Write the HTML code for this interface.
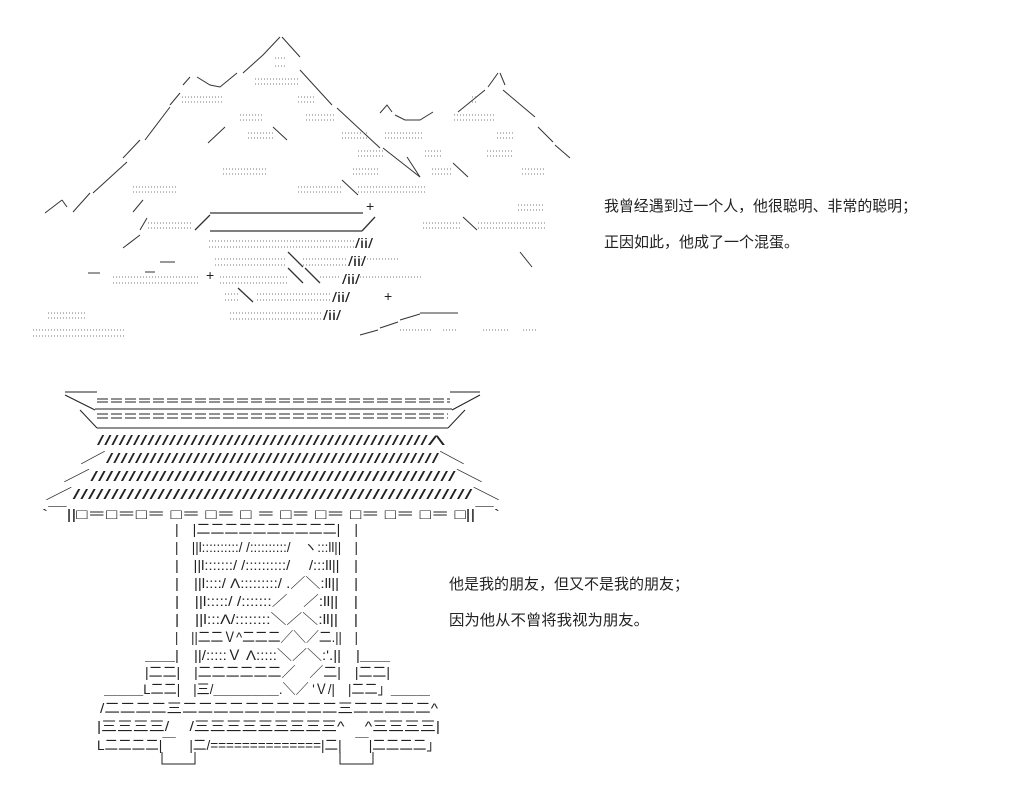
<!DOCTYPE html>
<html><head><meta charset="utf-8"><style>
html,body{margin:0;padding:0;background:#fff;width:1018px;height:802px;overflow:hidden}
svg{display:block}
text{font-family:"Liberation Sans","Noto Sans CJK SC",sans-serif;fill:#222}
.a{font-size:14px}
.c{font-size:15px}
</style></head><body>
<svg width="1018" height="802" viewBox="0 0 1018 802" xmlns="http://www.w3.org/2000/svg">
<g stroke="#333" stroke-width="1" fill="none">
<!-- big mountain -->
<path d="M280,37 L263,55 L243,73 M282,37 L300,57 M300,70 L332,105 M190,77 L183,85 M197,77 L210,85 L220,87 L237,73 M180,93 L170,105 M170,107 L145,140 M140,140 L123,158 M127,162 L93,193 M90,193 L73,212 M62,200 L45,213 M62,200 L67,207 M337,108 L380,148 M383,148 L420,177 M342,180 L358,195 M273,127 L287,140 M225,127 L208,143 M143,200 L133,212 M147,218 L140,230 M140,235 L123,248"/>
<!-- second mountain -->
<path d="M498,73 L488,87 M500,73 L505,85 M485,90 L458,112 M380,113 L387,105 L392,112 M395,115 L405,120 L420,120 L433,112 M503,90 L535,117 M538,127 L553,142 M555,145 L570,158 M453,163 L468,177 M407,157 L420,177 M463,217 L477,230 M520,252 L532,267"/>
<!-- bridge -->
<path d="M210,213 L363,213 M210,231 L362,231 M195,230 L210,215 M362,231 L375,217 M288,252 L303,267 M288,268 L303,283 M305,268 L320,283 M238,288 L253,302" stroke-width="1.3"/>
<path d="M420,313 L458,313 M400,320 L420,314 M380,328 L398,322 M360,335 L378,330 M88,273 L100,273 M160,262 L175,262 M145,272 L155,272"/>
</g>
<g stroke="#777" stroke-width="1" stroke-dasharray="1 2">
<path d="M275,58H286M275,66H286M255,79H299M255,84H299M182,97H223M182,102H223M298,97H316M298,102H316M240,115H262M240,120H262M306,115H335M306,120H335M454,115H496M454,120H496M472,97H478M472,102H478M248,133H273M248,138H273M342,133H368M342,138H368M385,133H423M385,138H423M497,133H513M497,138H513M358,151H385M358,156H385M425,151H443M425,156H443M487,151H513M487,156H513M223,169H267M223,174H267M353,169H378M353,174H378M432,169H453M432,174H453M522,169H545M522,174H545M133,187H177M133,192H177M298,187H342M298,192H342M358,187H425M358,192H425M518,205H545M518,210H545M148,223H193M148,228H193M423,223H462M423,228H462M478,223H545M478,228H545M209,241H355M209,247H355M215,259H287M215,265H287M303,259H347M303,265H347M358,259H398M113,277H198M113,283H198M220,277H288M220,283H288M320,277H340M360,277H422M225,294H238M225,300H238M257,294H332M257,300H332M230,313H323M230,319H323M48,313H87M48,318H87M33,330H125M33,336H125M400,330H433M483,330H510M443,330H457M523,330H537"/>
</g>
<text class="a" x="366" y="211">+</text>
<text class="a" x="384" y="301">+</text>
<text class="a" x="206" y="280">+</text>
<text class="a" x="355" y="248" textLength="18" lengthAdjust="spacingAndGlyphs">/ii/</text>
<text class="a" x="348" y="266" textLength="18" lengthAdjust="spacingAndGlyphs">/ii/</text>
<text class="a" x="342" y="284" textLength="18" lengthAdjust="spacingAndGlyphs">/ii/</text>
<text class="a" x="332" y="302" textLength="18" lengthAdjust="spacingAndGlyphs">/ii/</text>
<text class="a" x="323" y="320" textLength="18" lengthAdjust="spacingAndGlyphs">/ii/</text>

<!-- gate roof -->
<g stroke="#222" stroke-width="1" fill="none">
<path d="M65,392H97M450,392H480M65,395L95,410M80,410L97,428M480,395L452,410M465,410L448,428M95,409H452M97,428H448"/>
<path d="M97,399H450M97,402H450M97,414H448M97,418H448" stroke-dasharray="11 3"/>
</g>
<text class="a" x="97" y="445" textLength="348" lengthAdjust="spacingAndGlyphs">//////////////////////////////////////////////Λ</text>
<text class="a" x="80" y="463" textLength="385" lengthAdjust="spacingAndGlyphs">／//////////////////////////////////////////////＼</text>
<text class="a" x="63" y="481" textLength="420" lengthAdjust="spacingAndGlyphs">／////////////////////////////////////////////////＼</text>
<text class="a" x="45" y="499" textLength="455" lengthAdjust="spacingAndGlyphs">／////////////////////////////////////////////////////＼</text>
<text class="a" x="42" y="519" textLength="458" lengthAdjust="spacingAndGlyphs">`￣||□＝□＝□＝ □＝ □＝ □ ＝ □＝ □＝ □＝ □＝ □＝ □||￣`</text>

<!-- gate body -->
<g class="a">
<text x="175" y="534" textLength="183" lengthAdjust="spacingAndGlyphs">|　|二二二二二二二二二二|　|</text>
<text x="175" y="552" textLength="183" lengthAdjust="spacingAndGlyphs">|　||l::::::::::/ /::::::::::/　ヽ:::ll||　|</text>
<text x="175" y="570" textLength="183" lengthAdjust="spacingAndGlyphs">|　||l:::::::/ /::::::::::/　 /:::ll||　|</text>
<text x="175" y="588" textLength="183" lengthAdjust="spacingAndGlyphs">|　||l::::/ Λ:::::::::/ .／＼:ll||　|</text>
<text x="175" y="606" textLength="183" lengthAdjust="spacingAndGlyphs">|　||l:::::/ /:::::::／　／:ll||　|</text>
<text x="175" y="624" textLength="183" lengthAdjust="spacingAndGlyphs">|　||l:::Λ/::::::::＼／＼:ll||　|</text>
<text x="175" y="642" textLength="183" lengthAdjust="spacingAndGlyphs">|　||二二Ｖ^二二二／＼／二.||　|</text>
<text x="145" y="660" textLength="245" lengthAdjust="spacingAndGlyphs">＿＿|　||/:::::Ｖ Λ:::::＼／＼:'.||　|＿＿</text>
<text x="145" y="677" textLength="245" lengthAdjust="spacingAndGlyphs">|二二|　|二二二二二二／　／二|　|二二|</text>
<text x="104" y="694" textLength="326" lengthAdjust="spacingAndGlyphs">＿＿＿L二二|　|三/＿＿＿＿＿.＼／ 'Ｖ/|　|二二」＿＿＿</text>
<text x="100" y="713" textLength="338" lengthAdjust="spacingAndGlyphs">/二二二二三二二二二二二二二二二三二二二二二^</text>
<text x="97" y="731" textLength="343" lengthAdjust="spacingAndGlyphs">|三三三三/　 /三三三三三三三三三^　 ^三三三三|</text>
<text x="97" y="750" textLength="343" lengthAdjust="spacingAndGlyphs">L二二二二|￣　|二/==============|二|　￣|二二二二」</text>
</g>
<g stroke="#222" fill="none"><path d="M162,752V764H195V752M340,752V764H373V752"/></g>

<!-- Chinese text -->
<text class="c" x="604" y="211" textLength="313" lengthAdjust="spacingAndGlyphs">我曾经遇到过一个人，他很聪明、非常的聪明；</text>
<text class="c" x="604" y="247" textLength="195" lengthAdjust="spacingAndGlyphs">正因如此，他成了一个混蛋。</text>
<text class="c" x="449" y="589" textLength="240" lengthAdjust="spacingAndGlyphs">他是我的朋友，但又不是我的朋友；</text>
<text class="c" x="449" y="625" textLength="200" lengthAdjust="spacingAndGlyphs">因为他从不曾将我视为朋友。</text>
</svg>
</body></html>
